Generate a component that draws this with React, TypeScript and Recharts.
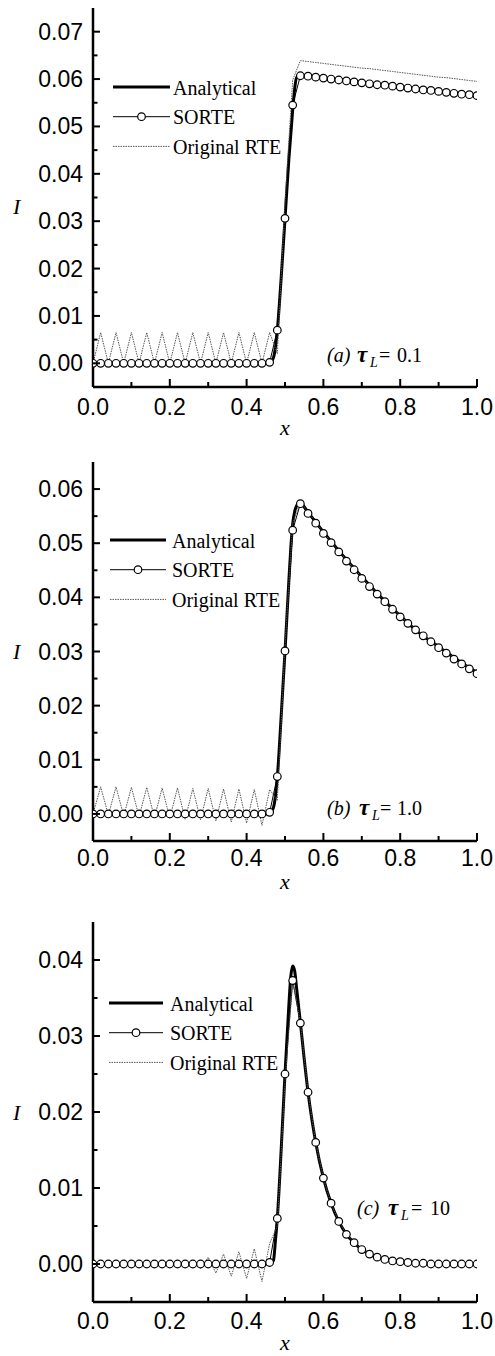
import React from 'react';
import { LineChart, Line, XAxis, YAxis, Legend } from 'recharts';

const FONT_SANS = '"Liberation Sans", Arial, sans-serif';
const FONT_SERIF = '"Liberation Serif", "Times New Roman", serif';

// shared x grid of the numerical solutions (step 0.02)
const X_GRID = [
  0, 0.02, 0.04, 0.06, 0.08, 0.1, 0.12, 0.14, 0.16, 0.18,
  0.2, 0.22, 0.24, 0.26, 0.28, 0.3, 0.32, 0.34, 0.36, 0.38,
  0.4, 0.42, 0.44, 0.46, 0.48, 0.5, 0.52, 0.54, 0.56, 0.58,
  0.6, 0.62, 0.64, 0.66, 0.68, 0.7, 0.72, 0.74, 0.76, 0.78,
  0.8, 0.82, 0.84, 0.86, 0.88, 0.9, 0.92, 0.94, 0.96, 0.98, 1.0,
];
const X_TICKS = [0, 0.1, 0.2, 0.3, 0.4, 0.5, 0.6, 0.7, 0.8, 0.9, 1.0];

// (a) tau_L = 0.1
const Y_TICKS_A = [0, 0.005, 0.01, 0.015, 0.02, 0.025, 0.03, 0.035, 0.04, 0.045, 0.05, 0.055, 0.06, 0.065, 0.07];
const SORTE_A = [
  0, 0, 0, 0, 0, 0, 0, 0, 0, 0,
  0, 0, 0, 0, 0, 0, 0, 0, 0, 0,
  0, 0, 0, 0.0002, 0.007, 0.0306, 0.0545, 0.0607, 0.0606, 0.0604,
  0.0602, 0.06, 0.0598, 0.0596, 0.0594, 0.0592, 0.059, 0.0588, 0.0587, 0.0585,
  0.0583, 0.0581, 0.0579, 0.0577, 0.0576, 0.0574, 0.0572, 0.057, 0.0568, 0.0567, 0.0565,
];
const RTE_A = [
  0, 0.0065, 0, 0.0065, 0, 0.0065, 0, 0.0065, 0, 0.0065,
  0, 0.0065, 0, 0.0065, 0, 0.0065, 0, 0.0065, 0, 0.0065,
  0, 0.0065, 0, 0.0065, 0.002, 0.034, 0.0598, 0.0639, 0.0637, 0.0635,
  0.0633, 0.0631, 0.0629, 0.0627, 0.0625, 0.0623, 0.0622, 0.062, 0.0618, 0.0616,
  0.0614, 0.0612, 0.061, 0.0608, 0.0606, 0.0604, 0.0603, 0.0601, 0.0599, 0.0597, 0.0595,
];
const ANA_A_X = [0, 0.2, 0.4, 0.46, 0.47, 0.48, 0.49, 0.5, 0.51, 0.52, 0.525, 0.53, 0.54, 0.6, 0.7, 0.8, 0.9, 1.0];
const ANA_A = [0, 0, 0, 0, 0.0012, 0.007, 0.018, 0.0305, 0.043, 0.0535, 0.0578, 0.0603, 0.0608, 0.0603, 0.0594, 0.0584, 0.0575, 0.0566];

// (b) tau_L = 1.0
const Y_TICKS_B = [0, 0.005, 0.01, 0.015, 0.02, 0.025, 0.03, 0.035, 0.04, 0.045, 0.05, 0.055, 0.06];
const SORTE_B = [
  0, 0, 0, 0, 0, 0, 0, 0, 0, 0,
  0, 0, 0, 0, 0, 0, 0, 0, 0, 0,
  0, 0, 0, 0.0003, 0.0069, 0.0301, 0.0524, 0.0573, 0.0555, 0.0537,
  0.0518, 0.0501, 0.0484, 0.0467, 0.0451, 0.0435, 0.042, 0.0406, 0.0392, 0.0378,
  0.0364, 0.0352, 0.034, 0.0329, 0.0318, 0.0307, 0.0297, 0.0286, 0.0277, 0.0268, 0.0259,
];
const RTE_B = [
  0, 0.005, -0.0002, 0.005, -0.0004, 0.0049, -0.0005, 0.0049, -0.0007, 0.0048,
  -0.0008, 0.0048, -0.001, 0.0047, -0.0011, 0.0047, -0.0013, 0.0046, -0.0015, 0.0046,
  -0.0017, 0.0045, -0.0021, 0.0045, 0.0025, 0.031, 0.0536, 0.0577, 0.0557, 0.0539,
  0.052, 0.0503, 0.0486, 0.0469, 0.0453, 0.0437, 0.0422, 0.0408, 0.0394, 0.038,
  0.0366, 0.0354, 0.0342, 0.0331, 0.032, 0.0309, 0.0299, 0.0288, 0.0279, 0.027, 0.0261,
];
const ANA_B_X = [0, 0.2, 0.4, 0.46, 0.47, 0.48, 0.49, 0.5, 0.51, 0.515, 0.52, 0.525, 0.53, 0.535, 0.54, 0.56, 0.6, 0.65, 0.7, 0.75, 0.8, 0.85, 0.9, 0.95, 1.0];
const ANA_B = [0, 0, 0, 0, 0.0012, 0.0068, 0.018, 0.03, 0.043, 0.049, 0.0535, 0.0558, 0.0569, 0.0574, 0.0574, 0.0557, 0.0521, 0.0478, 0.0438, 0.04, 0.0366, 0.0334, 0.0309, 0.0284, 0.0261];

// (c) tau_L = 10
const Y_TICKS_C = [0, 0.005, 0.01, 0.015, 0.02, 0.025, 0.03, 0.035, 0.04];
const SORTE_C = [
  0, 0, 0, 0, 0, 0, 0, 0, 0, 0,
  0, 0, 0, 0, 0, 0, 0, 0, 0, 0,
  0, 0, 0, 0.0002, 0.006, 0.025, 0.0373, 0.0317, 0.0226, 0.016,
  0.0113, 0.008, 0.0056, 0.0039, 0.0028, 0.0019, 0.0013, 0.0009, 0.0006, 0.0004,
  0.0003, 0.0002, 0.0001, 0.0001, 0, 0, 0, 0, 0, 0, 0,
];
const RTE_C = [
  0, 0, 0, 0, 0, 0, 0, 0, 0, 0,
  0, 0.0001, -0.0003, 0.0004, -0.0006, 0.0009, -0.0012, 0.0013, -0.0016, 0.0016,
  -0.0019, 0.002, -0.0023, 0.0027, 0.005, 0.024, 0.0372, 0.0318, 0.0226, 0.016,
  0.0113, 0.008, 0.0056, 0.0039, 0.0028, 0.0019, 0.0013, 0.0009, 0.0006, 0.0004,
  0.0003, 0.0002, 0.0001, 0.0001, 0, 0, 0, 0, 0, 0, 0,
];
const ANA_C_X = [0, 0.2, 0.4, 0.46, 0.47, 0.475, 0.48, 0.49, 0.5, 0.51, 0.515, 0.52, 0.525, 0.53, 0.54, 0.55, 0.56, 0.57, 0.58, 0.6, 0.62, 0.64, 0.66, 0.68, 0.7, 0.72, 0.75, 0.8, 0.85, 0.9, 1.0];
const ANA_C = [0, 0, 0, 0, 0.0005, 0.003, 0.006, 0.015, 0.025, 0.034, 0.0378, 0.0392, 0.0386, 0.0364, 0.0318, 0.027, 0.0226, 0.019, 0.016, 0.0113, 0.008, 0.0056, 0.0039, 0.0028, 0.0019, 0.0013, 0.0007, 0.0003, 0.0001, 0, 0];

const LEGEND_NAMES = ['Analytical', 'SORTE', 'Original RTE'];

const toRows = (xs: number[], ys: number[]) => xs.map((x, i) => ({ x, y: ys[i] }));

const AXIS_LINE = { stroke: '#000', strokeWidth: 2.5 };
const RTE_STYLE = { stroke: '#555', strokeWidth: 1, strokeDasharray: '1.5 1' };
const DOT = { r: 3.8, fill: '#fff', stroke: '#000', strokeWidth: 1.2 };

function BottomTick({ x, y, payload, gap }: any) {
  const v = payload.value;
  const major = Math.round(v / 0.1) % 2 === 0;
  return (
    <g>
      <line x1={x} x2={x} y1={y} y2={y - (major ? 8 : 5)} stroke="#000" strokeWidth={2} />
      {major && (
        <text x={x} y={y + gap} textAnchor="middle" fontFamily={FONT_SANS} fontSize={23} fill="#000">
          {v.toFixed(1)}
        </text>
      )}
    </g>
  );
}

function TopTick({ x, y, payload }: any) {
  const major = Math.round(payload.value / 0.1) % 2 === 0;
  return <line x1={x} x2={x} y1={y} y2={y + (major ? 8 : 5)} stroke="#000" strokeWidth={2} />;
}

function LeftTick({ x, y, payload }: any) {
  const v = payload.value;
  const major = Math.round(v / 0.005) % 2 === 0;
  return (
    <g>
      <line x1={x} x2={x + (major ? 7 : 4.5)} y1={y} y2={y} stroke="#000" strokeWidth={2} />
      {major && (
        <text x={x - 10} y={y + 8} textAnchor="end" fontFamily={FONT_SANS} fontSize={23} fill="#000">
          {v.toFixed(2)}
        </text>
      )}
    </g>
  );
}

function RightTick({ x, y, payload }: any) {
  const major = Math.round(payload.value / 0.005) % 2 === 0;
  return <line x1={x} x2={x - (major ? 7 : 4.5)} y1={y} y2={y} stroke="#000" strokeWidth={2} />;
}

function SeriesLegend({ x1, x2, tx }: { x1: number; x2: number; tx: number }) {
  const rows = [15, 44.7, 74.4];
  return (
    <svg width={260} height={95} style={{ overflow: 'visible' }}>
      {LEGEND_NAMES.map((name, i) => (
        <g key={name}>
          {i === 0 && <line x1={x1} x2={x2} y1={rows[i]} y2={rows[i]} stroke="#000" strokeWidth={3} />}
          {i === 1 && (
            <>
              <line x1={x1} x2={x2} y1={rows[i]} y2={rows[i]} stroke="#000" strokeWidth={1} />
              <circle cx={(x1 + x2) / 2} cy={rows[i]} {...DOT} />
            </>
          )}
          {i === 2 && <line x1={x1} x2={x2} y1={rows[i]} y2={rows[i]} {...RTE_STYLE} />}
          <text x={tx} y={rows[i] + 7.5} fontFamily={FONT_SERIF} fontSize={20} fill="#000">
            {name}
          </text>
        </g>
      ))}
    </svg>
  );
}

interface PanelProps {
  top: number;
  height: number;
  marginTop: number;
  axisHeight: number;
  yDomain: [number, number];
  yTicks: number[];
  sorte: number[];
  rte: number[];
  anaX: number[];
  ana: number[];
  labelGap: number;
  iDy: number;
  legend: { top: number; left: number; x1: number; x2: number; tx: number };
  tag: { letter: string; value: string; x: number; y: number; tauX: number; subX: number; eqX: number; valX: number };
}

function Panel(p: PanelProps) {
  const { tag } = p;
  return (
    <div style={{ position: 'absolute', left: 0, top: p.top, width: 495, height: p.height }}>
      <LineChart width={495} height={p.height} margin={{ top: p.marginTop, right: 18, bottom: 0, left: 0 }}>
        <XAxis
          xAxisId="b" type="number" dataKey="x" domain={[0, 1]} allowDataOverflow ticks={X_TICKS} interval={0}
          height={p.axisHeight} tickSize={0} tickMargin={0} tickLine={false} axisLine={AXIS_LINE}
          tick={(t: any) => <BottomTick {...t} gap={p.labelGap} />}
          label={{ value: 'x', position: 'insideBottom', offset: p.axisHeight - 48, fontFamily: FONT_SERIF, fontStyle: 'italic', fontSize: 22, fill: '#000' }}
        />
        <XAxis
          xAxisId="t" orientation="top" type="number" dataKey="x" domain={[0, 1]} allowDataOverflow ticks={X_TICKS} interval={0}
          height={0} tickSize={0} tickMargin={0} tickLine={false} axisLine={AXIS_LINE}
          tick={(t: any) => <TopTick {...t} />}
        />
        <YAxis
          yAxisId="l" type="number" domain={p.yDomain} allowDataOverflow ticks={p.yTicks} interval={0}
          width={93} tickSize={0} tickMargin={0} tickLine={false} axisLine={AXIS_LINE}
          tick={(t: any) => <LeftTick {...t} />}
          label={{ value: 'I', position: 'insideLeft', offset: 13, dy: p.iDy, fontFamily: FONT_SERIF, fontStyle: 'italic', fontSize: 22, fill: '#000' }}
        />
        <YAxis
          yAxisId="r" orientation="right" type="number" domain={p.yDomain} allowDataOverflow ticks={p.yTicks} interval={0}
          width={0} tickSize={0} tickMargin={0} tickLine={false} axisLine={AXIS_LINE}
          tick={(t: any) => <RightTick {...t} />}
        />
        <Line
          xAxisId="b" yAxisId="l" name="Analytical" data={toRows(p.anaX, p.ana)} dataKey="y"
          type="monotone" stroke="#000" strokeWidth={3} dot={false} isAnimationActive={false}
        />
        <Line
          xAxisId="b" yAxisId="l" name="SORTE" data={toRows(X_GRID, p.sorte)} dataKey="y"
          type="linear" stroke="#000" strokeWidth={1} dot={DOT} isAnimationActive={false}
        />
        <Line
          xAxisId="b" yAxisId="l" name="Original RTE" data={toRows(X_GRID, p.rte)} dataKey="y"
          type="linear" {...RTE_STYLE} dot={false} isAnimationActive={false}
        />
        <Legend
          layout="vertical" align="center" verticalAlign="middle"
          wrapperStyle={{ top: p.legend.top, left: p.legend.left, width: 260, height: 95 }}
          content={() => <SeriesLegend x1={p.legend.x1} x2={p.legend.x2} tx={p.legend.tx} />}
        />
      </LineChart>
      <svg width={495} height={p.height} style={{ position: 'absolute', left: 0, top: 0, pointerEvents: 'none' }}>
        <text y={tag.y} fontFamily={FONT_SERIF} fontSize={20} fill="#000">
          <tspan x={tag.x} fontStyle="italic">{`(${tag.letter})`}</tspan>
          <tspan x={tag.tauX} fontStyle="italic" fontWeight="bold" fontSize={23}>τ</tspan>
          <tspan x={tag.subX} dy={5} fontStyle="italic" fontSize={14}>L</tspan>
          <tspan x={tag.eqX} dy={-5}>=</tspan>
          <tspan x={tag.valX}>{tag.value}</tspan>
        </text>
      </svg>
    </div>
  );
}

export default function App() {
  return (
    <div style={{ position: 'absolute', left: 0, top: 0, width: 495, height: 1356, background: '#fff' }}>
      <Panel
        top={0} height={444} marginTop={8} axisHeight={57} yDomain={[-0.005, 0.075]} yTicks={Y_TICKS_A}
        sorte={SORTE_A} rte={RTE_A} anaX={ANA_A_X} ana={ANA_A} labelGap={28} iDy={9}
        legend={{ top: 72, left: 110, x1: 3, x2: 60, tx: 63 }}
        tag={{ letter: 'a', value: '0.1', x: 327, y: 362, tauX: 357, subX: 370, eqX: 379, valX: 397 }}
      />
      <Panel
        top={450} height={448} marginTop={12} axisHeight={57} yDomain={[-0.005, 0.065]} yTicks={Y_TICKS_B}
        sorte={SORTE_B} rte={RTE_B} anaX={ANA_B_X} ana={ANA_B} labelGap={25} iDy={0}
        legend={{ top: 75, left: 107, x1: 3, x2: 59, tx: 65 }}
        tag={{ letter: 'b', value: '1.0', x: 327, y: 365, tauX: 359, subX: 372, eqX: 380, valX: 397 }}
      />
      <Panel
        top={903} height={453} marginTop={19} axisHeight={54} yDomain={[-0.005, 0.045]} yTicks={Y_TICKS_C}
        sorte={SORTE_C} rte={RTE_C} anaX={ANA_C_X} ana={ANA_C} labelGap={27} iDy={0}
        legend={{ top: 85, left: 106, x1: 3, x2: 57, tx: 64 }}
        tag={{ letter: 'c', value: '10', x: 357, y: 312, tauX: 388, subX: 401, eqX: 411, valX: 430 }}
      />
    </div>
  );
}
